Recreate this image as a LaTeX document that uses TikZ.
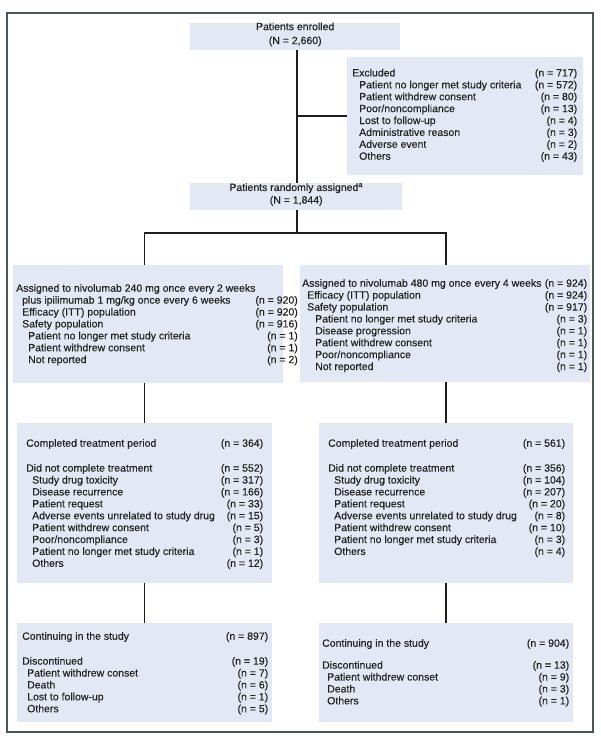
\documentclass[tikz,border=0pt]{standalone}
\usepackage{fontspec}
\setmainfont{Liberation Sans}[FakeBold=0.35]
\definecolor{boxfill}{HTML}{E2E9F4}
\definecolor{framec}{HTML}{4A5859}
\definecolor{linec}{HTML}{1E1E1E}
\definecolor{textc}{HTML}{222222}
\newcommand\ind[1]{\hspace*{#1pt}}
\newcommand\tb[2]{\begin{tabular*}{#1pt}{@{}l@{\extracolsep{\fill}}r@{}}#2\end{tabular*}}
\begin{document}
\begin{tikzpicture}[x=1pt,y=-1pt,
  box/.style={fill=boxfill, draw=none, inner sep=0, anchor=north west},
  txt/.style={inner sep=0, font=\fontsize{10.5}{11.9}\selectfont, text=textc},
  conn/.style={draw=linec, line width=1.4pt},
  frame/.style={draw=framec, line width=1.5pt}]
\useasboundingbox (0,0) rectangle (600,743);
\draw[frame] (7,13) rectangle (593,732);

% boxes
\node[box, minimum width=210, minimum height=27] (enr) at (190,23) {};
\node[box, minimum width=236, minimum height=118] (exc) at (347,57) {};
\node[box, minimum width=212, minimum height=27] (rnd) at (190,183) {};
\node[box, minimum width=270, minimum height=118] (lb1) at (13,265) {};
\node[box, minimum width=290, minimum height=117] (rb1) at (300,265) {};
\node[box, minimum width=255, minimum height=160] (lb2) at (17,423) {};
\node[box, minimum width=254, minimum height=160] (rb2) at (319,423) {};
\node[box, minimum width=255, minimum height=99] (lb3) at (17,623) {};
\node[box, minimum width=254, minimum height=99] (rb3) at (319,623) {};

% texts
\node[txt, align=center] (enrt) at ([yshift=2.3]enr.center) {Patients enrolled\\[2pt](N = 2,660)};
\node[txt, align=center] (rndt) at ([yshift=2.3]rnd.center) {Patients randomly assigned\textsuperscript{a}\\[0.7pt](N = 1,844)};

\node[txt, anchor=north west] (exct) at (352,67.9) {\tb{225}{%
Excluded & (n = 717)\\
\ind{7}Patient no longer met study criteria & (n = 572)\\
\ind{7}Patient withdrew consent & (n = 80)\\
\ind{7}Poor/noncompliance & (n = 13)\\
\ind{7}Lost to follow-up & (n = 4)\\
\ind{7}Administrative reason & (n = 3)\\
\ind{7}Adverse event & (n = 2)\\
\ind{7}Others & (n = 43)}};

\node[txt, anchor=north west] (lb1t) at (16,283.2) {\tb{263}{%
Assigned to nivolumab 240 mg once every 2 weeks & \\
\ind{6}plus ipilimumab 1 mg/kg once every 6 weeks & (n = 920)\\
\ind{6}Efficacy (ITT) population & (n = 920)\\
\ind{6}Safety population & (n = 916)\\
\ind{12}Patient no longer met study criteria & (n = 1)\\
\ind{12}Patient withdrew consent & (n = 1)\\
\ind{12}Not reported & (n = 2)}};

\node[txt, anchor=north west] (rb1t) at (302,278.2) {\tb{285}{%
Assigned to nivolumab 480 mg once every 4 weeks & (n = 924)\\
\ind{5}Efficacy (ITT) population & (n = 924)\\
\ind{5}Safety population & (n = 917)\\
\ind{13}Patient no longer met study criteria & (n = 3)\\
\ind{13}Disease progression & (n = 1)\\
\ind{13}Patient withdrew consent & (n = 1)\\
\ind{13}Poor/noncompliance & (n = 1)\\
\ind{13}Not reported & (n = 1)}};

\node[txt, anchor=north west] (lb2t) at (26,438.2) {\tb{237}{%
Completed treatment period & (n = 364)\\[13pt]
Did not complete treatment & (n = 552)\\
\ind{6}Study drug toxicity & (n = 317)\\
\ind{6}Disease recurrence & (n = 166)\\
\ind{6}Patient request & (n = 33)\\
\ind{6}Adverse events unrelated to study drug & (n = 15)\\
\ind{6}Patient withdrew consent & (n = 5)\\
\ind{6}Poor/noncompliance & (n = 3)\\
\ind{6}Patient no longer met study criteria & (n = 1)\\
\ind{6}Others & (n = 12)}};

\node[txt, anchor=north west] (rb2t) at (328,438.2) {\tb{237}{%
Completed treatment period & (n = 561)\\[13pt]
Did not complete treatment & (n = 356)\\
\ind{6}Study drug toxicity & (n = 104)\\
\ind{6}Disease recurrence & (n = 207)\\
\ind{6}Patient request & (n = 20)\\
\ind{6}Adverse events unrelated to study drug & (n = 8)\\
\ind{6}Patient withdrew consent & (n = 10)\\
\ind{6}Patient no longer met study criteria & (n = 3)\\
\ind{6}Others & (n = 4)}};

\node[txt, anchor=north west] (lb3t) at (22,631.2) {\tb{246}{%
Continuing in the study & (n = 897)\\[13pt]
Discontinued & (n = 19)\\
\ind{5}Patient withdrew conset & (n = 7)\\
\ind{5}Death & (n = 6)\\
\ind{5}Lost to follow-up & (n = 1)\\
\ind{5}Others & (n = 5)}};

\node[txt, anchor=north west] (rb3t) at (322,638.2) {\tb{247}{%
Continuing in the study & (n = 904)\\[10pt]
Discontinued & (n = 13)\\
\ind{5}Patient withdrew conset & (n = 9)\\
\ind{5}Death & (n = 3)\\
\ind{5}Others & (n = 1)}};

% connectors
\coordinate (cx) at (297,0);
\coordinate (sL) at (144.5,233);
\coordinate (sR) at (446,233);
\draw[conn] (cx |- enr.south) -- (cx |- rnd.north);
\draw[conn] (cx |- exc.west) -- (exc.west);
\draw[conn] (cx |- rnd.south) -- (cx |- sL);
\draw[conn] ([xshift=-0.7]sL) -- ([xshift=0.7]sR);
\draw[conn] (sL) -- (sL |- lb1.north);
\draw[conn] (sR) -- (sR |- rb1.north);
\draw[conn] (sL |- lb1.south) -- (sL |- lb2.north);
\draw[conn] (sR |- rb1.south) -- (sR |- rb2.north);
\draw[conn] (sL |- lb2.south) -- (sL |- lb3.north);
\draw[conn] (sR |- rb2.south) -- (sR |- rb3.north);
\end{tikzpicture}
\end{document}
